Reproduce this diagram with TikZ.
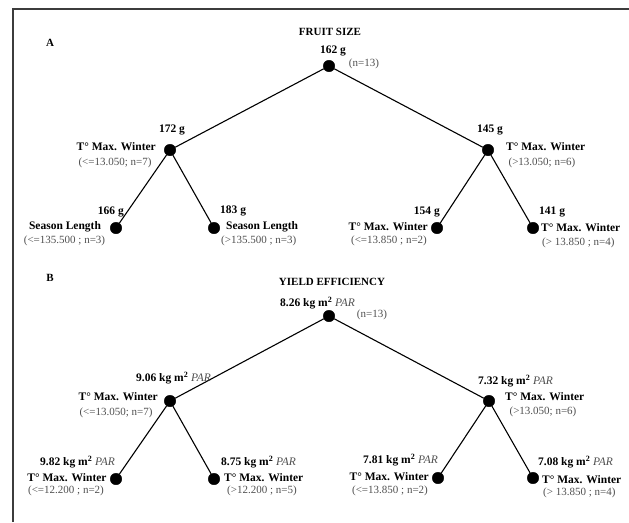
\documentclass[tikz,border=0pt]{standalone}
\usepackage{fontspec}
\setmainfont{Liberation Serif}
\usepackage{xcolor}
\usepackage{tikz}
\usetikzlibrary{positioning,calc}

\definecolor{framegray}{HTML}{3C3C3C}
\definecolor{txtgray}{HTML}{505050}
\newcommand{\kgpar}{kg m\textsuperscript{2} \textcolor{txtgray}{\normalfont\itshape PAR}}

\begin{document}
\begin{tikzpicture}[
    x=1pt, y=-1pt,
    dot/.style={circle, fill=black, draw=black, minimum size=11.5pt, inner sep=0pt},
    val/.style={font=\fontsize{11.5}{13}\selectfont\bfseries, inner sep=0pt},
    lab/.style={font=\fontsize{11.5}{13}\selectfont\bfseries, inner sep=0pt},
    cnt/.style={font=\fontsize{11}{13}\selectfont, text=txtgray, inner sep=0pt},
    ttl/.style={font=\fontsize{11}{13}\selectfont\bfseries, inner sep=0pt},
    branch/.style={draw=black, line width=1.1pt}
]
\useasboundingbox (0,0) rectangle (629,522);

% Frame (top and left only)
\draw[framegray, line width=1.6pt] (13,522) -- (13,9) -- (629,9);

% ---------------- A: fruit size ----------------
\node[ttl] (A) at (50,43) {A};
\node[ttl] (titleA) at (330,32) {FRUIT SIZE};

\node[dot] (a0) at (329,66) {};
\node[dot] (a1) at (170,150) {};
\node[dot] (a2) at (488,150) {};
\node[dot] (a11) at (116,228) {};
\node[dot] (a12) at (214,228) {};
\node[dot] (a21) at (437,228) {};
\node[dot] (a22) at (533,228) {};

% Branches
\draw[branch] (a0) -- (a1);
\draw[branch] (a0) -- (a2);
\draw[branch] (a1) -- (a11);
\draw[branch] (a1) -- (a12);
\draw[branch] (a2) -- (a21);
\draw[branch] (a2) -- (a22);

% Labels
\node[val] (a0v) at (333,51) {162 g};
\node[cnt] (a0n) at (364,64) {(n=13)};

\node[val] (a1v) at (172,130) {172 g};
\node[lab, anchor=east] (a1l) at (156,147) {T° Max. Winter};
\node[cnt] (a1n) at (115,163) {(<=13.050; n=7)};

\node[val, anchor=east] (a11v) at (124,212) {166 g};
\node[lab] (a11l) at (65,227) {Season Length};
\node[cnt] (a11n) at (64.5,241) {(<=135.500 ; n=3)};

\node[val, anchor=west] (a12v) at (220,211) {183 g};
\node[lab, anchor=west] (a12l) at (226,227) {Season Length};
\node[cnt, anchor=west] (a12n) at (221,241) {(>135.500 ; n=3)};

\node[val] (a2v) at (490,130) {145 g};
\node[lab, anchor=west] (a2l) at (506,147) {T° Max. Winter};
\node[cnt] (a2n) at (542,163) {(>13.050; n=6)};

\node[val, anchor=east] (a21v) at (440,212) {154 g};
\node[lab, anchor=east] (a21l) at (428,227) {T° Max. Winter};
\node[cnt] (a21n) at (389,241) {(<=13.850 ; n=2)};

\node[val, anchor=west] (a22v) at (539,212) {141 g};
\node[lab, anchor=west] (a22l) at (541,228) {T° Max. Winter};
\node[cnt, anchor=west] (a22n) at (542,243) {(> 13.850 ; n=4)};

% ---------------- B: yield efficiency ----------------
\node[ttl] (B) at (50,278) {B};
\node[ttl] (titleB) at (332,282) {YIELD EFFICIENCY};

\node[dot] (b0) at (329,316) {};
\node[dot] (b1) at (170,401) {};
\node[dot] (b2) at (489,401) {};
\node[dot] (b11) at (116,479) {};
\node[dot] (b12) at (214,479) {};
\node[dot] (b21) at (438,478) {};
\node[dot] (b22) at (533,478) {};

% Branches
\draw[branch] (b0) -- (b1);
\draw[branch] (b0) -- (b2);
\draw[branch] (b1) -- (b11);
\draw[branch] (b1) -- (b12);
\draw[branch] (b2) -- (b21);
\draw[branch] (b2) -- (b22);

% Labels
\node[val, anchor=west] (b0v) at (280,303) {8.26 \kgpar};
\node[cnt] (b0n) at (372,315) {(n=13)};

\node[val, anchor=west] (b1v) at (136,378) {9.06 \kgpar};
\node[lab, anchor=east] (b1l) at (158,397) {T° Max. Winter};
\node[cnt] (b1n) at (116,413) {(<=13.050; n=7)};

\node[val, anchor=east] (b11v) at (115,462) {9.82 \kgpar};
\node[lab] (b11l) at (67,478) {T° Max. Winter};
\node[cnt] (b11n) at (66,491) {(<=12.200 ; n=2)};

\node[val, anchor=west] (b12v) at (221,462) {8.75 \kgpar};
\node[lab, anchor=west] (b12l) at (224,478) {T° Max. Winter};
\node[cnt, anchor=west] (b12n) at (227,491) {(>12.200 ; n=5)};

\node[val, anchor=west] (b2v) at (478,381) {7.32 \kgpar};
\node[lab, anchor=west] (b2l) at (505,397) {T° Max. Winter};
\node[cnt] (b2n) at (543,412) {(>13.050; n=6)};

\node[val, anchor=east] (b21v) at (438,460) {7.81 \kgpar};
\node[lab, anchor=east] (b21l) at (429,477) {T° Max. Winter};
\node[cnt] (b21n) at (390,491) {(<=13.850 ; n=2)};

\node[val, anchor=west] (b22v) at (538,462) {7.08 \kgpar};
\node[lab, anchor=west] (b22l) at (542,480) {T° Max. Winter};
\node[cnt, anchor=west] (b22n) at (543,493) {(> 13.850 ; n=4)};

\end{tikzpicture}
\end{document}
